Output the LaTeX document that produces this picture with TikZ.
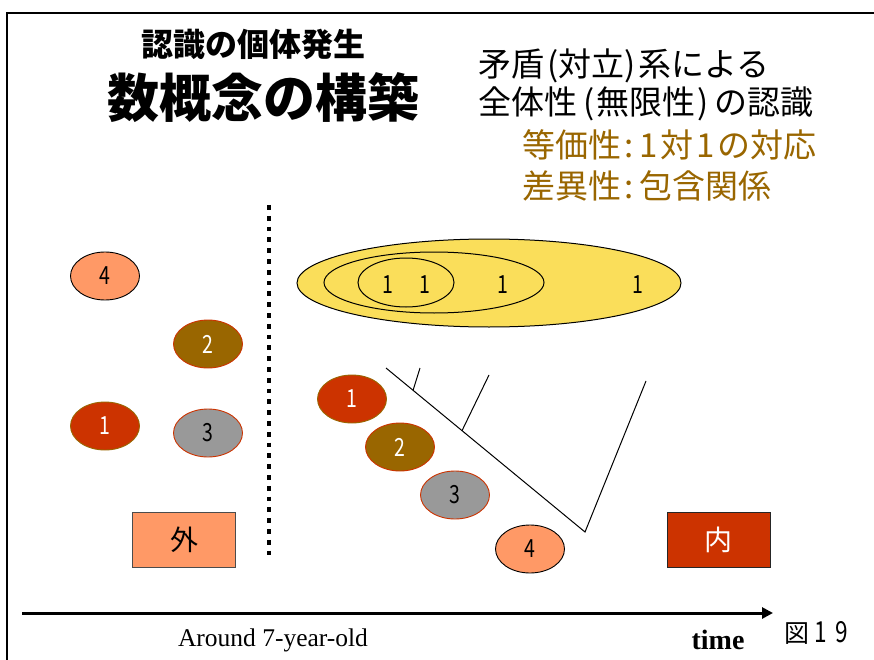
\documentclass[tikz,border=0pt]{standalone}
\usepackage{fontspec}
\setmainfont{Noto Sans CJK JP}
\newfontfamily\seriffont{Liberation Serif}
\newfontfamily\numfont[FakeStretch=0.78]{Noto Sans CJK JP}
\usetikzlibrary{arrows.meta,shapes.geometric,calc}
\definecolor{salmon}{HTML}{FF9966}
\definecolor{brn}{HTML}{996600}
\definecolor{rd}{HTML}{CC3300}
\definecolor{gry}{HTML}{999999}
\definecolor{yel}{RGB}{250,222,90}
\newcommand{\pl}{\hspace{3pt}(}
\newcommand{\pr}{)\hspace{3pt}}
\newcommand{\plw}{\hspace{6pt}(\hspace{2pt}}
\newcommand{\prw}{\hspace{2pt})\hspace{6pt}}
\newcommand{\cl}{\hspace{3pt}:\hspace{6pt}}
\begin{document}
\begin{tikzpicture}[x=1pt,y=-1pt,
  oval/.style={ellipse, minimum width=69pt, minimum height=48pt, inner sep=0pt, line width=0.9pt, font=\fontsize{25}{25}\numfont},
  ring/.style={ellipse, draw=black, line width=1pt, inner sep=0pt},
  one/.style={inner sep=0pt, font=\fontsize{25}{25}\numfont},
  sidebox/.style={minimum width=103pt, minimum height=55pt, inner sep=0pt, line width=1pt, font=\fontsize{28}{28}\selectfont},
  rtext/.style={anchor=west, inner sep=0pt, font=\fontsize{33}{33}\selectfont},
  brtext/.style={rtext, text=brn}
]
\useasboundingbox (0,0) rectangle (874,660);
\fill[white] (0,0) rectangle (874,660);
% frame
\draw[line width=2pt] (7,665) -- (7,13) -- (880,13);

% titles
\node[inner sep=0pt, font=\fontsize{32}{32}\selectfont\bfseries] (sub) at (253,44.5) {認識の個体発生};
\node[inner sep=0pt, font=\fontsize{52}{52}\selectfont\bfseries] (title) at (263,97.5) {数概念の構築};

\node[rtext] (r1) at (478,66) {矛盾\pl 対立\pr 系による};
\node[rtext] (r2) at (478,104) {全体性\plw 無限性\prw の認識};
\node[brtext] (r3) at (522,145) {等価性\cl 1\hspace{3pt}対\hspace{3pt}1\hspace{2pt}の対応};
\node[brtext] (r4) at (522,186) {差異性\cl 包含関係};

% dotted divider
\coordinate (dtop) at (269,205);
\coordinate (dbot) at (269,556);
\draw[line width=4.8pt, dash pattern=on 4.8pt off 6pt] (dtop) -- (dbot);

% left ovals
\node[oval, fill=salmon, draw=black] (L4) at (105,276) {4};
\node[oval, fill=brn, draw=rd, text=white] (L2) at (208,344) {2};
\node[oval, fill=rd, draw=brn, text=white] (L1) at (105,426) {1};
\node[oval, fill=gry, draw=rd] (L3) at (208,433) {3};

% boxes
\node[sidebox, fill=salmon, draw=black!70] (out) at (184,539.5) {外};
\node[sidebox, fill=rd, draw=black!85, text=white] (in) at (718.5,539.5) {内};

% nested ovals
\node[ring, fill=yel, minimum width=384pt, minimum height=88pt] (E3) at (489,283) {};
\node[ring, minimum width=220pt, minimum height=61pt] (E2) at (434,282.5) {};
\node[ring, minimum width=96pt, minimum height=49pt] (E1) at (406,282.5) {};
\node[one] (o1) at (388,285) {1};
\node[one] (o2) at (425,285) {1};
\node[one] (o3) at (503,285) {1};
\node[one] (o4) at (638,285) {1};

% right ovals
\node[oval, fill=rd, draw=brn, text=white] (R1) at (352,399) {1};
\node[oval, fill=brn, draw=rd, text=white] (R2) at (400,447) {2};
\node[oval, fill=gry, draw=rd] (R3) at (455,495) {3};
\node[oval, fill=salmon, draw=black] (R4) at (530,549) {4};

% tree
\coordinate (t0) at (386,368);
\coordinate (t1) at (585,532);
\coordinate (t2) at (646,381);
\coordinate (b1) at ($(t0)!0.136!(t1)$);
\coordinate (b1t) at (420,368);
\coordinate (b2) at ($(t0)!0.382!(t1)$);
\coordinate (b2t) at (489,375);
\draw[line width=1pt] (t0) -- (t1) -- (t2);
\draw[line width=1pt] (b1) -- (b1t);
\draw[line width=1pt] (b2) -- (b2t);

% time axis
\coordinate (a0) at (22,613);
\coordinate (a1) at (773,613);
\draw[line width=3pt, -{Triangle[length=11pt,width=11pt]}] (a0) -- (a1);
\node[inner sep=0pt, anchor=base, font=\fontsize{25.5}{25.5}\selectfont\seriffont] (age) at (273,646) {Around 7-year-old};
\node[inner sep=0pt, anchor=base, font=\fontsize{28}{28}\selectfont\seriffont\bfseries] (time) at (718,649) {time};
\node[inner sep=0pt, anchor=base west] (fig) at (784,642) {{\fontsize{25}{25}\selectfont 図}\hspace{5pt}{\fontsize{29}{29}\numfont 1}\hspace{9pt}{\fontsize{29}{29}\numfont 9}};
\end{tikzpicture}
\end{document}
